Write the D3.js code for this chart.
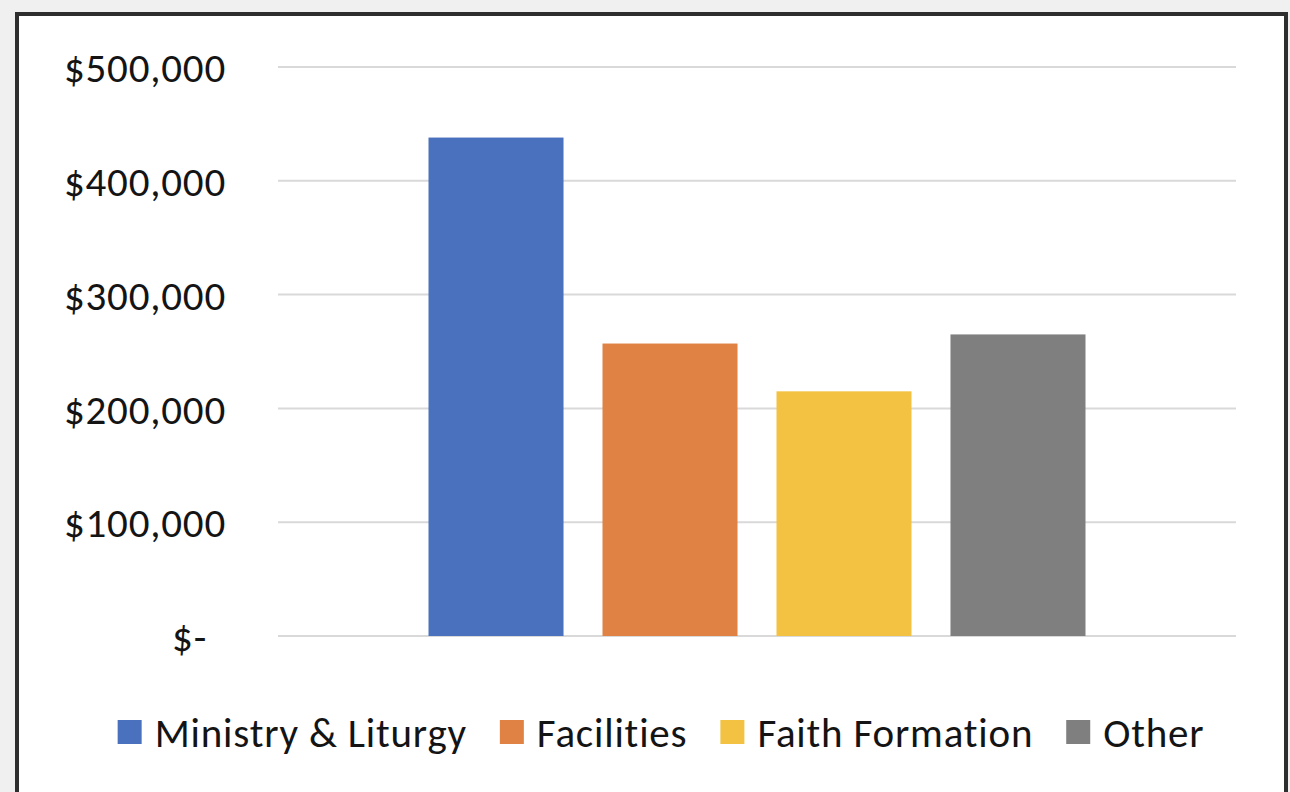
<!DOCTYPE html>
<html lang="en">
<head>
    <meta charset="UTF-8">
    <title>Spending by Category</title>
    <script src="https://cdnjs.cloudflare.com/ajax/libs/d3/7.8.4/d3.min.js"></script>
    <style>
        html, body {
            margin: 0;
            padding: 0;
            background: #f0f0f0;
        }
        svg {
            display: block;
        }
        text {
            font-family: Carlito, Calibri, Lato, "Noto Sans", sans-serif;
            font-variant-ligatures: none;
            letter-spacing: 0.8px;
            fill: #141414;
        }
    </style>
</head>
<body>
    <svg></svg>

    <script>
        // chart data
        const categories = ["Ministry & Liturgy", "Facilities", "Faith Formation", "Other"];
        const amounts = [438000, 257000, 215000, 265000];
        const yTicks = [0, 100000, 200000, 300000, 400000, 500000];
        const colors = ["#4a71bd", "#df8244", "#f3c243", "#7f7f7f"];

        const width = 1290;
        const height = 792;
        const fontSize = 41;

        const svg = d3.select("svg")
            .attr("width", width)
            .attr("height", height);

        // white chart box with dark frame
        svg.append("rect")
            .attr("x", 17)
            .attr("y", 14)
            .attr("width", 1269)
            .attr("height", 820)
            .style("fill", "#fff")
            .style("stroke", "#2e2e2e")
            .style("stroke-width", 4);

        const plot = { left: 278, right: 1236, top: 67, bottom: 636 };

        const y = d3.scaleLinear()
            .domain([0, 500000])
            .range([plot.bottom, plot.top]);

        const x = d3.scaleBand()
            .domain(categories)
            .range([plot.left, plot.right])
            .paddingInner(0.224)
            .paddingOuter(0.865);

        // gridlines
        svg.append("g")
            .selectAll("line")
            .data(yTicks)
            .enter().append("line")
            .attr("x1", plot.left)
            .attr("x2", plot.right)
            .attr("y1", d => y(d))
            .attr("y2", d => y(d))
            .style("stroke", "#d9d9d9")
            .style("stroke-width", 2);

        // y axis labels
        const fmt = d3.format(",");
        const yAxis = d3.axisLeft(y)
            .tickValues(yTicks)
            .tickSize(0)
            .tickPadding(0)
            .tickFormat(d => d === 0 ? "$-" : "$" + fmt(d));

        const yg = svg.append("g")
            .attr("transform", "translate(226,0)")
            .call(yAxis);
        yg.select(".domain").remove();
        yg.selectAll("text")
            .style("font-size", fontSize + "px")
            .attr("dy", "0.36em")
            .attr("x", d => d === 0 ? -19 : 0);

        // bars
        svg.append("g")
            .selectAll("rect")
            .data(categories)
            .enter().append("rect")
            .attr("x", d => x(d))
            .attr("width", x.bandwidth())
            .attr("y", (d, i) => y(amounts[i]))
            .attr("height", (d, i) => y(0) - y(amounts[i]))
            .style("fill", (d, i) => colors[i]);

        // legend
        const legend = svg.append("g").attr("class", "legend");
        const items = legend.selectAll("g")
            .data(categories)
            .enter().append("g");

        items.append("rect")
            .attr("width", 24)
            .attr("height", 24)
            .attr("y", -12)
            .style("fill", (d, i) => colors[i]);

        items.append("text")
            .attr("x", 37)
            .attr("dy", "0.36em")
            .style("font-size", fontSize + "px")
            .text(d => d);

        // lay out legend items side by side, centred
        let cursor = 0;
        items.each(function() {
            const w = 37 + d3.select(this).select("text").node().getComputedTextLength();
            d3.select(this).attr("transform", `translate(${cursor},0)`);
            cursor += w + 33;
        });
        const total = cursor - 33;
        legend.attr("transform", `translate(${661 - total / 2},732)`);
    </script>
</body>
</html>
